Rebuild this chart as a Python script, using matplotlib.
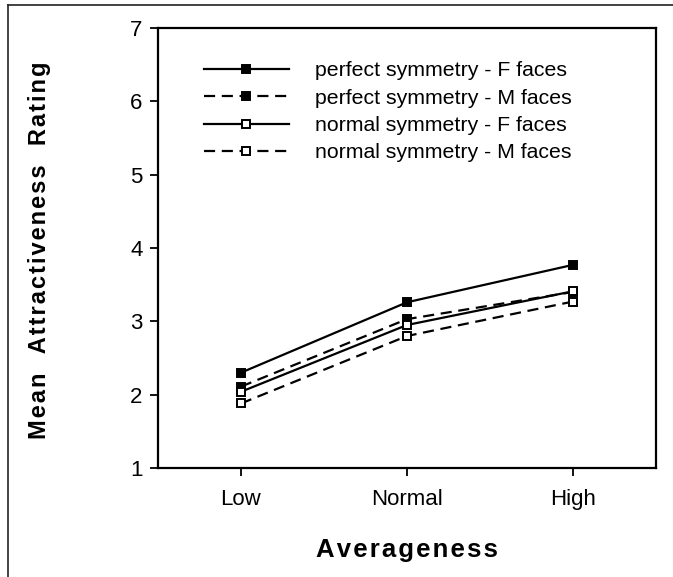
import numpy as np
import matplotlib
matplotlib.use("Agg")
import matplotlib.pyplot as plt
from matplotlib.lines import Line2D

plt.rcParams["font.family"] = ["Liberation Sans", "DejaVu Sans"]

categories = ["Low", "Normal", "High"]
perfect_f = [2.30, 3.26, 3.77]
perfect_m = [2.11, 3.03, 3.40]
normal_f = [2.04, 2.95, 3.41]
normal_m = [1.88, 2.80, 3.27]

series = [
    ("perfect symmetry - F faces", perfect_f, "-", "black"),
    ("perfect symmetry - M faces", perfect_m, (0, (5, 3)), "black"),
    ("normal symmetry - F faces", normal_f, "-", "white"),
    ("normal symmetry - M faces", normal_m, (0, (5, 3)), "white"),
]


def spaced(s):
    # the scanned labels are letter-spaced; hair spaces between glyphs
    return "\u200a".join(s)


fig = plt.figure(figsize=(6.73, 5.77), dpi=100)
ax = fig.add_axes([158 / 673, 109 / 577, 498 / 673, 440 / 577])

x = np.arange(len(categories))
for label, vals, ls, face in series:
    ax.plot(x, vals, linestyle=ls, color="black", linewidth=1.6,
            marker="s", markersize=5.8, markerfacecolor=face,
            markeredgecolor="black", markeredgewidth=1.4, label=label)

ax.set_xlim(-0.5, 2.5)
ax.set_ylim(1, 7)
ax.set_xticks(x)
ax.set_xticklabels(categories)
ax.set_yticks(range(1, 8))
ax.tick_params(axis="both", direction="out", length=6, width=1.3, labelsize=16)
ax.tick_params(axis="y", pad=5)
ax.tick_params(axis="x", pad=9)
for s in ax.spines.values():
    s.set_linewidth(1.6)

leg = ax.legend(loc="upper left", bbox_to_anchor=(0.092, 0.925), frameon=False,
                fontsize=15.3, handlelength=4.0, handletextpad=1.25,
                labelspacing=0.4, borderpad=0, borderaxespad=0)

fig.text(0.059, 1 - 250 / 577, spaced("Mean  Attractiveness  Rating"), rotation=90,
         fontsize=17, fontweight="bold", ha="center", va="center")
fig.text(407 / 673, 27 / 577, spaced("Averageness"), fontsize=18.5, fontweight="bold",
         ha="center", va="center")

# scan frame: top and left edges only
fig.add_artist(Line2D([8 / 673, 1], [1 - 5 / 577, 1 - 5 / 577],
                      transform=fig.transFigure, color="#222222", linewidth=1.2))
fig.add_artist(Line2D([8 / 673, 8 / 673], [0, 1 - 5 / 577],
                      transform=fig.transFigure, color="#222222", linewidth=1.2))

fig.savefig("out.png", dpi=100)
